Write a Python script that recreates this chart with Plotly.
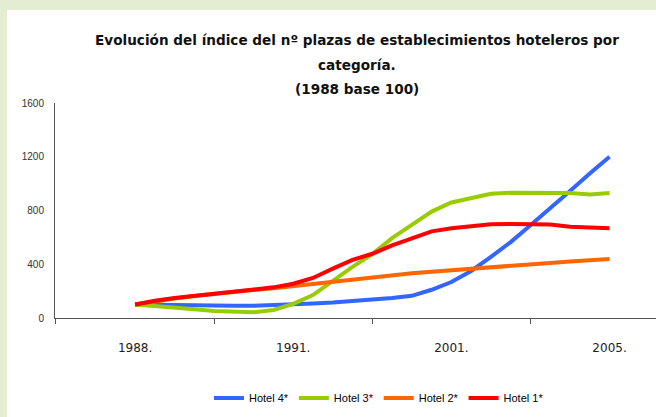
import plotly.graph_objects as go

# Index of hotel beds by category (1988 = 100)
period = list(range(25))
tick_positions = [0, 8, 16, 24]
tick_labels = ["1988.", "1991.", "2001.", "2005."]

hotel4 = [100, 97, 94, 92, 91, 91, 92, 95, 99, 108, 115, 124, 133, 148, 165,
          210, 268, 350, 455, 565, 690, 815, 945, 1075, 1200]
hotel3 = [100, 90, 78, 65, 52, 45, 42, 60, 105, 171, 280, 380, 475, 594, 693,
          792, 860, 895, 925, 932, 932, 932, 930, 920, 931]
hotel2 = [100, 125, 145, 163, 180, 195, 208, 222, 238, 255, 275, 290, 305, 320,
          333, 345, 357, 368, 380, 390, 400, 410, 420, 430, 440]
hotel1 = [100, 128, 148, 165, 182, 197, 210, 228, 255, 298, 367, 433, 478, 541,
          592, 645, 668, 685, 698, 700, 700, 695, 680, 672, 668]

series = [
    ("Hotel 4*", hotel4, "#3366FF"),
    ("Hotel 3*", hotel3, "#99CC00"),
    ("Hotel 2*", hotel2, "#FF6600"),
    ("Hotel 1*", hotel1, "#FF0000"),
]

W, H = 656, 417
ML, MR, MT, MB = 55, 0, 103, 99
PW, PH = W - ML - MR, H - MT - MB

fig = go.Figure()
for name, vals, color in series:
    fig.add_trace(go.Scatter(x=period, y=vals, mode="lines", name=name,
                             line=dict(color=color, width=4)))


def px_x(px):
    return (px - ML) / PW


def px_y(py):
    return (H - MB - py) / PH


# light green frame on the top and left, white card inside
fig.add_shape(type="rect", xref="paper", yref="paper", layer="below",
              x0=px_x(7), x1=px_x(W + 5), y0=px_y(H + 5), y1=px_y(10),
              fillcolor="white", line=dict(width=0))

title_font = dict(family="DejaVu Sans", size=13.6, color="#111111")
title_lines = [
    ("<b>Evolución del índice del nº plazas de establecimientos hoteleros por</b>", 40),
    ("<b>categoría.</b>", 65),
    ("<b>(1988 base 100)</b>", 89),
]
for text, ypix in title_lines:
    fig.add_annotation(text=text, xref="paper", yref="paper", x=px_x(357),
                       y=px_y(ypix), xanchor="center", yanchor="middle",
                       showarrow=False, font=title_font)

fig.update_layout(
    width=W, height=H,
    margin=dict(l=ML, r=MR, t=MT, b=MB),
    paper_bgcolor="#E4EDD2",
    plot_bgcolor="rgba(0,0,0,0)",
    showlegend=True,
    legend=dict(orientation="h", x=px_x(379), y=px_y(398),
                xanchor="center", yanchor="middle",
                font=dict(family="Liberation Sans", size=11, color="#000000"),
                itemwidth=30, tracegroupgap=0, bgcolor="rgba(0,0,0,0)"),
    xaxis=dict(range=[-4.05, 26.35], showgrid=False, zeroline=False,
               showline=True, linecolor="#555555", linewidth=1,
               tickmode="array", tickvals=tick_positions, ticktext=tick_labels,
               ticks="outside", ticklen=19, tickcolor="rgba(0,0,0,0)",
               tickfont=dict(family="DejaVu Sans", size=12, color="#222222"),
               minor=dict(tick0=-4, dtick=8, ticks="outside", ticklen=5,
                          tickcolor="#555555", tickwidth=1, showgrid=False)),
    yaxis=dict(range=[0, 1600], showgrid=False, zeroline=False,
               showline=True, linecolor="#555555", linewidth=1,
               tickvals=[0, 400, 800, 1200, 1600],
               ticks="outside", ticklen=8, tickcolor="rgba(0,0,0,0)",
               tickfont=dict(family="Liberation Sans", size=10, color="#333333")),
)

fig.write_html("out.html")
